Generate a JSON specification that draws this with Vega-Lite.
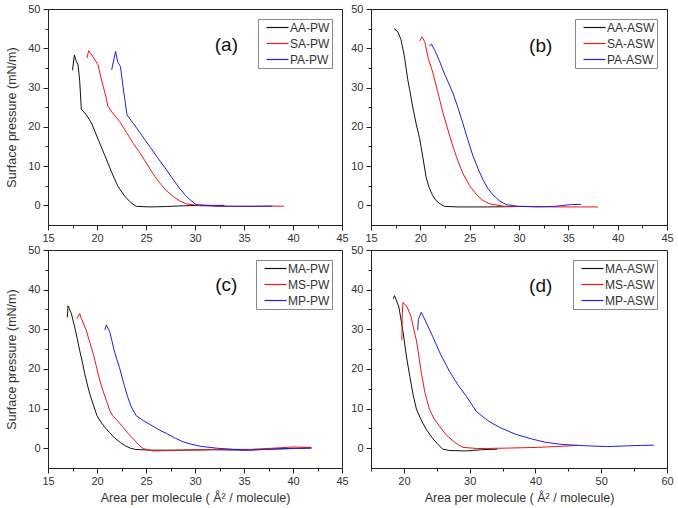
{
  "$schema": "https://vega.github.io/schema/vega-lite/v6.json",
  "padding": {"left": 5, "top": 2, "right": 5, "bottom": 5},
  "background": "white",
  "datasets": {
    "a": [
      {"series":"AA-PW","area":17.5,"pressure":34.4},{"series":"AA-PW","area":17.69,"pressure":38.3},{"series":"AA-PW","area":17.9,"pressure":36.6},{"series":"AA-PW","area":18.06,"pressure":35.8},{"series":"AA-PW","area":18.23,"pressure":31.9},{"series":"AA-PW","area":18.4,"pressure":24.5},{"series":"AA-PW","area":18.9,"pressure":23.1},{"series":"AA-PW","area":19.43,"pressure":21.0},{"series":"AA-PW","area":20.1,"pressure":16.9},{"series":"AA-PW","area":20.8,"pressure":12.7},{"series":"AA-PW","area":21.5,"pressure":8.4},{"series":"AA-PW","area":22.1,"pressure":5.0},{"series":"AA-PW","area":22.8,"pressure":2.4},{"series":"AA-PW","area":23.5,"pressure":0.6},{"series":"AA-PW","area":24.0,"pressure":-0.25},{"series":"AA-PW","area":25.4,"pressure":-0.4},{"series":"AA-PW","area":27.1,"pressure":-0.3},{"series":"AA-PW","area":28.8,"pressure":-0.1},{"series":"AA-PW","area":30.5,"pressure":0},{"series":"AA-PW","area":33,"pressure":0},
      {"series":"SA-PW","area":18.98,"pressure":37.5},{"series":"SA-PW","area":19.15,"pressure":39.4},{"series":"SA-PW","area":19.6,"pressure":37.8},{"series":"SA-PW","area":20.1,"pressure":35.8},{"series":"SA-PW","area":20.5,"pressure":31.5},{"series":"SA-PW","area":20.95,"pressure":27.3},{"series":"SA-PW","area":21.1,"pressure":25.3},{"series":"SA-PW","area":21.6,"pressure":23.5},{"series":"SA-PW","area":22.3,"pressure":21.4},{"series":"SA-PW","area":23.0,"pressure":18.6},{"series":"SA-PW","area":23.7,"pressure":15.8},{"series":"SA-PW","area":24.4,"pressure":13.3},{"series":"SA-PW","area":25.03,"pressure":10.8},{"series":"SA-PW","area":25.7,"pressure":8.1},{"series":"SA-PW","area":26.4,"pressure":5.7},{"series":"SA-PW","area":27.1,"pressure":3.7},{"series":"SA-PW","area":27.76,"pressure":2.3},{"series":"SA-PW","area":28.4,"pressure":1.2},{"series":"SA-PW","area":29.1,"pressure":0.4},{"series":"SA-PW","area":30.5,"pressure":-0.1},{"series":"SA-PW","area":33.9,"pressure":-0.25},{"series":"SA-PW","area":37.3,"pressure":-0.2},{"series":"SA-PW","area":39.1,"pressure":-0.2},
      {"series":"PA-PW","area":21.5,"pressure":34.5},{"series":"PA-PW","area":21.7,"pressure":37},{"series":"PA-PW","area":21.9,"pressure":39.2},{"series":"PA-PW","area":22.1,"pressure":36.6},{"series":"PA-PW","area":22.4,"pressure":35.3},{"series":"PA-PW","area":22.65,"pressure":30.3},{"series":"PA-PW","area":23.06,"pressure":23.05},{"series":"PA-PW","area":23.7,"pressure":20.9},{"series":"PA-PW","area":24.5,"pressure":18.1},{"series":"PA-PW","area":25.37,"pressure":15},{"series":"PA-PW","area":26.2,"pressure":12.1},{"series":"PA-PW","area":27.07,"pressure":9.1},{"series":"PA-PW","area":27.8,"pressure":6.5},{"series":"PA-PW","area":28.4,"pressure":4.4},{"series":"PA-PW","area":29.0,"pressure":2.6},{"series":"PA-PW","area":29.5,"pressure":1.4},{"series":"PA-PW","area":30.1,"pressure":0.2},{"series":"PA-PW","area":32.2,"pressure":-0.2},{"series":"PA-PW","area":35.6,"pressure":-0.25},{"series":"PA-PW","area":37.9,"pressure":-0.2}
    ],
    "b": [
      {"series":"AA-ASW","area":17.36,"pressure":44.9},{"series":"AA-ASW","area":17.7,"pressure":44.3},{"series":"AA-ASW","area":18.04,"pressure":42.2},{"series":"AA-ASW","area":18.38,"pressure":38.0},{"series":"AA-ASW","area":18.72,"pressure":32.1},{"series":"AA-ASW","area":18.95,"pressure":29},{"series":"AA-ASW","area":19.22,"pressure":25.2},{"series":"AA-ASW","area":19.6,"pressure":20.5},{"series":"AA-ASW","area":19.93,"pressure":17.0},{"series":"AA-ASW","area":20.25,"pressure":12.3},{"series":"AA-ASW","area":20.6,"pressure":7.0},{"series":"AA-ASW","area":20.9,"pressure":4.5},{"series":"AA-ASW","area":21.25,"pressure":2.5},{"series":"AA-ASW","area":21.6,"pressure":1.2},{"series":"AA-ASW","area":22.0,"pressure":0.4},{"series":"AA-ASW","area":22.43,"pressure":-0.25},{"series":"AA-ASW","area":23.8,"pressure":-0.4},{"series":"AA-ASW","area":26.8,"pressure":-0.4},{"series":"AA-ASW","area":30,"pressure":-0.3},
      {"series":"SA-ASW","area":19.9,"pressure":41.8},{"series":"SA-ASW","area":20.17,"pressure":42.9},{"series":"SA-ASW","area":20.44,"pressure":41.7},{"series":"SA-ASW","area":20.8,"pressure":37.5},{"series":"SA-ASW","area":21.28,"pressure":33.7},{"series":"SA-ASW","area":21.8,"pressure":28.5},{"series":"SA-ASW","area":22.3,"pressure":23.5},{"series":"SA-ASW","area":22.8,"pressure":19.2},{"series":"SA-ASW","area":23.3,"pressure":15},{"series":"SA-ASW","area":23.8,"pressure":11.4},{"series":"SA-ASW","area":24.3,"pressure":8.2},{"series":"SA-ASW","area":25.0,"pressure":5.0},{"series":"SA-ASW","area":25.7,"pressure":2.7},{"series":"SA-ASW","area":26.3,"pressure":1.3},{"series":"SA-ASW","area":27.0,"pressure":0.4},{"series":"SA-ASW","area":28.5,"pressure":-0.25},{"series":"SA-ASW","area":30.5,"pressure":-0.25},{"series":"SA-ASW","area":33.6,"pressure":-0.4},{"series":"SA-ASW","area":38.0,"pressure":-0.4},
      {"series":"PA-ASW","area":20.9,"pressure":40.5},{"series":"PA-ASW","area":21.12,"pressure":41.1},{"series":"PA-ASW","area":21.5,"pressure":39.3},{"series":"PA-ASW","area":21.9,"pressure":37},{"series":"PA-ASW","area":22.3,"pressure":34.4},{"series":"PA-ASW","area":22.8,"pressure":31.5},{"series":"PA-ASW","area":23.3,"pressure":28.6},{"series":"PA-ASW","area":23.8,"pressure":25},{"series":"PA-ASW","area":24.3,"pressure":21.0},{"series":"PA-ASW","area":24.8,"pressure":16.8},{"series":"PA-ASW","area":25.33,"pressure":12.6},{"series":"PA-ASW","area":25.85,"pressure":9.3},{"series":"PA-ASW","area":26.35,"pressure":6.5},{"series":"PA-ASW","area":26.85,"pressure":4.3},{"series":"PA-ASW","area":27.36,"pressure":2.7},{"series":"PA-ASW","area":28.0,"pressure":1.2},{"series":"PA-ASW","area":28.7,"pressure":0.2},{"series":"PA-ASW","area":29.9,"pressure":-0.25},{"series":"PA-ASW","area":31.9,"pressure":-0.4},{"series":"PA-ASW","area":33.6,"pressure":-0.25},{"series":"PA-ASW","area":35.3,"pressure":0.2},{"series":"PA-ASW","area":36.3,"pressure":0.25}
    ],
    "c": [
      {"series":"MA-PW","area":16.97,"pressure":33.0},{"series":"MA-PW","area":17.04,"pressure":35.9},{"series":"MA-PW","area":17.38,"pressure":34.0},{"series":"MA-PW","area":17.72,"pressure":30.6},{"series":"MA-PW","area":17.98,"pressure":27.7},{"series":"MA-PW","area":18.23,"pressure":24.7},{"series":"MA-PW","area":18.5,"pressure":21.8},{"series":"MA-PW","area":18.74,"pressure":18.9},{"series":"MA-PW","area":19.0,"pressure":16.2},{"series":"MA-PW","area":19.25,"pressure":13.8},{"series":"MA-PW","area":19.6,"pressure":11.1},{"series":"MA-PW","area":20.0,"pressure":8.2},{"series":"MA-PW","area":20.4,"pressure":6.6},{"series":"MA-PW","area":20.8,"pressure":5.3},{"series":"MA-PW","area":21.3,"pressure":3.9},{"series":"MA-PW","area":21.8,"pressure":2.6},{"series":"MA-PW","area":22.4,"pressure":1.4},{"series":"MA-PW","area":22.9,"pressure":0.6},{"series":"MA-PW","area":23.4,"pressure":0.0},{"series":"MA-PW","area":23.9,"pressure":-0.3},{"series":"MA-PW","area":25.4,"pressure":-0.5},{"series":"MA-PW","area":28,"pressure":-0.5},{"series":"MA-PW","area":32,"pressure":-0.4},{"series":"MA-PW","area":35,"pressure":-0.5},{"series":"MA-PW","area":38,"pressure":-0.2},{"series":"MA-PW","area":41.8,"pressure":0.1},
      {"series":"MS-PW","area":17.96,"pressure":32.7},{"series":"MS-PW","area":18.23,"pressure":34.0},{"series":"MS-PW","area":18.4,"pressure":32.7},{"series":"MS-PW","area":18.9,"pressure":29.8},{"series":"MS-PW","area":19.25,"pressure":26.8},{"series":"MS-PW","area":19.6,"pressure":23.9},{"series":"MS-PW","area":19.95,"pressure":20.5},{"series":"MS-PW","area":20.27,"pressure":17.2},{"series":"MS-PW","area":20.6,"pressure":14.6},{"series":"MS-PW","area":20.95,"pressure":12.1},{"series":"MS-PW","area":21.3,"pressure":9.5},{"series":"MS-PW","area":21.6,"pressure":8.2},{"series":"MS-PW","area":22.1,"pressure":6.9},{"series":"MS-PW","area":22.65,"pressure":5.3},{"series":"MS-PW","area":23.1,"pressure":3.9},{"series":"MS-PW","area":23.6,"pressure":2.6},{"series":"MS-PW","area":24.2,"pressure":1.0},{"series":"MS-PW","area":24.7,"pressure":-0.1},{"series":"MS-PW","area":25.7,"pressure":-0.7},{"series":"MS-PW","area":28.8,"pressure":-0.5},{"series":"MS-PW","area":32.2,"pressure":-0.3},{"series":"MS-PW","area":35.6,"pressure":-0.3},{"series":"MS-PW","area":38,"pressure":0},{"series":"MS-PW","area":40,"pressure":0.3},{"series":"MS-PW","area":41.9,"pressure":0.2},
      {"series":"MP-PW","area":20.8,"pressure":29.8},{"series":"MP-PW","area":20.95,"pressure":31.1},{"series":"MP-PW","area":21.3,"pressure":29.4},{"series":"MP-PW","area":21.8,"pressure":24.2},{"series":"MP-PW","area":22.3,"pressure":20.3},{"series":"MP-PW","area":22.8,"pressure":15.7},{"series":"MP-PW","area":23.15,"pressure":12.8},{"series":"MP-PW","area":23.5,"pressure":10.4},{"series":"MP-PW","area":24.0,"pressure":8.2},{"series":"MP-PW","area":24.7,"pressure":7.0},{"series":"MP-PW","area":25.4,"pressure":6.0},{"series":"MP-PW","area":26.2,"pressure":4.8},{"series":"MP-PW","area":27.1,"pressure":3.7},{"series":"MP-PW","area":28.0,"pressure":2.5},{"series":"MP-PW","area":28.8,"pressure":1.6},{"series":"MP-PW","area":29.6,"pressure":1.0},{"series":"MP-PW","area":30.5,"pressure":0.5},{"series":"MP-PW","area":32.2,"pressure":0},{"series":"MP-PW","area":33.9,"pressure":-0.3},{"series":"MP-PW","area":35.6,"pressure":-0.5},{"series":"MP-PW","area":37.3,"pressure":-0.3},{"series":"MP-PW","area":40,"pressure":-0.1},{"series":"MP-PW","area":41.9,"pressure":0}
    ],
    "d": [
      {"series":"MA-ASW","area":18.37,"pressure":37.7},{"series":"MA-ASW","area":18.58,"pressure":38.5},{"series":"MA-ASW","area":19.24,"pressure":35.6},{"series":"MA-ASW","area":19.86,"pressure":29.5},{"series":"MA-ASW","area":20.4,"pressure":23},{"series":"MA-ASW","area":20.9,"pressure":18.1},{"series":"MA-ASW","area":21.4,"pressure":13.5},{"series":"MA-ASW","area":21.9,"pressure":9.9},{"series":"MA-ASW","area":22.6,"pressure":7.2},{"series":"MA-ASW","area":23.4,"pressure":4.75},{"series":"MA-ASW","area":24.3,"pressure":2.6},{"series":"MA-ASW","area":25.1,"pressure":1.1},{"series":"MA-ASW","area":25.9,"pressure":-0.25},{"series":"MA-ASW","area":27,"pressure":-0.6},{"series":"MA-ASW","area":29.5,"pressure":-0.7},{"series":"MA-ASW","area":31.65,"pressure":-0.4},{"series":"MA-ASW","area":34.2,"pressure":-0.25},
      {"series":"MS-ASW","area":19.7,"pressure":27.25},{"series":"MS-ASW","area":19.75,"pressure":33.9},{"series":"MS-ASW","area":19.86,"pressure":36.8},{"series":"MS-ASW","area":20.5,"pressure":35.6},{"series":"MS-ASW","area":21.1,"pressure":33.1},{"series":"MS-ASW","area":21.5,"pressure":30},{"series":"MS-ASW","area":21.9,"pressure":27.25},{"series":"MS-ASW","area":22.3,"pressure":23},{"series":"MS-ASW","area":22.66,"pressure":18.9},{"series":"MS-ASW","area":23.2,"pressure":14},{"series":"MS-ASW","area":23.9,"pressure":9.75},{"series":"MS-ASW","area":24.6,"pressure":7.4},{"series":"MS-ASW","area":25.4,"pressure":5.6},{"series":"MS-ASW","area":26.4,"pressure":3.4},{"series":"MS-ASW","area":27.5,"pressure":1.8},{"series":"MS-ASW","area":28.3,"pressure":0.8},{"series":"MS-ASW","area":29.0,"pressure":0.2},{"series":"MS-ASW","area":31.2,"pressure":-0.1},{"series":"MS-ASW","area":35.2,"pressure":0},{"series":"MS-ASW","area":40.3,"pressure":0.2},{"series":"MS-ASW","area":45.4,"pressure":0.6},{"series":"MS-ASW","area":46.4,"pressure":0.75},
      {"series":"MP-ASW","area":22.1,"pressure":29.75},{"series":"MP-ASW","area":22.2,"pressure":32.5},{"series":"MP-ASW","area":22.66,"pressure":34.3},{"series":"MP-ASW","area":23.3,"pressure":32},{"series":"MP-ASW","area":24.4,"pressure":28.1},{"series":"MP-ASW","area":25.6,"pressure":23.6},{"series":"MP-ASW","area":26.96,"pressure":19.3},{"series":"MP-ASW","area":28.2,"pressure":16},{"series":"MP-ASW","area":29.5,"pressure":13.1},{"series":"MP-ASW","area":31.0,"pressure":9.3},{"series":"MP-ASW","area":32.7,"pressure":7.0},{"series":"MP-ASW","area":34.6,"pressure":5.2},{"series":"MP-ASW","area":37.0,"pressure":3.5},{"series":"MP-ASW","area":39.6,"pressure":2.25},{"series":"MP-ASW","area":41.5,"pressure":1.5},{"series":"MP-ASW","area":43.7,"pressure":1.0},{"series":"MP-ASW","area":46,"pressure":0.75},{"series":"MP-ASW","area":48.5,"pressure":0.55},{"series":"MP-ASW","area":51,"pressure":0.4},{"series":"MP-ASW","area":53.5,"pressure":0.55},{"series":"MP-ASW","area":56,"pressure":0.7},{"series":"MP-ASW","area":58.0,"pressure":0.75}
    ],
    "labels": [
      {"panel":"a","label":"(a)","area":33.2,"pressure":40.9},
      {"panel":"b","label":"(b)","area":32.2,"pressure":40.7},
      {"panel":"c","label":"(c)","area":33.2,"pressure":41.2},
      {"panel":"d","label":"(d)","area":40.8,"pressure":41.0}
    ]
  },
  "columns": 2,
  "spacing": {"row": 25, "column": 29},
  "bounds": "flush",
  "resolve": {"scale": {"color": "independent"}, "legend": {"color": "independent"}},
  "concat": [
    {
      "width": 294, "height": 216,
      "layer": [
        {
          "data": {"name": "a"},
          "mark": {"type": "line", "strokeWidth": 1, "clip": true},
          "encoding": {
            "x": {"field": "area", "type": "quantitative", "scale": {"domain": [15, 45], "nice": false, "zero": false},
                  "axis": {"title": null, "format": "d", "tickCount": 100, "values": [15,17.5,20,22.5,25,27.5,30,32.5,35,37.5,40,42.5,45], "labelExpr": "datum.value % 5 === 0 ? datum.label : ''", "tickSize": {"condition": {"test": "datum.value % 5 === 0", "value": 5}, "value": 3}}},
            "y": {"field": "pressure", "type": "quantitative", "scale": {"domain": [-5, 50], "nice": false, "zero": false},
                  "axis": {"title": "Surface pressure (mN/m)", "format": "d", "tickCount": 100, "values": [0,5,10,15,20,25,30,35,40,45,50], "labelExpr": "datum.value % 10 === 0 ? datum.label : ''", "tickSize": {"condition": {"test": "datum.value % 10 === 0", "value": 5}, "value": 3}}},
            "color": {"field": "series", "type": "nominal", "scale": {"domain": ["AA-PW","SA-PW","PA-PW"], "range": ["#111111","#f01414","#1e1ee6"]}, "legend": {"title": null, "orient": "top-right"}}
          }
        },
        {
          "data": {"name": "labels"},
          "transform": [{"filter": "datum.panel === 'a'"}],
          "mark": {"type": "text", "fontSize": 19, "font": "Liberation Sans", "color": "#111"},
          "encoding": {"x": {"field": "area", "type": "quantitative"}, "y": {"field": "pressure", "type": "quantitative"}, "text": {"field": "label"}}
        }
      ]
    },
    {
      "width": 296, "height": 216,
      "layer": [
        {
          "data": {"name": "b"},
          "mark": {"type": "line", "strokeWidth": 1, "clip": true},
          "encoding": {
            "x": {"field": "area", "type": "quantitative", "scale": {"domain": [15, 45], "nice": false, "zero": false},
                  "axis": {"title": null, "format": "d", "tickCount": 100, "values": [15,17.5,20,22.5,25,27.5,30,32.5,35,37.5,40,42.5,45], "labelExpr": "datum.value % 5 === 0 ? datum.label : ''", "tickSize": {"condition": {"test": "datum.value % 5 === 0", "value": 5}, "value": 3}}},
            "y": {"field": "pressure", "type": "quantitative", "scale": {"domain": [-5, 50], "nice": false, "zero": false},
                  "axis": {"title": null, "format": "d", "tickCount": 100, "values": [0,5,10,15,20,25,30,35,40,45,50], "labelExpr": "datum.value % 10 === 0 ? datum.label : ''", "tickSize": {"condition": {"test": "datum.value % 10 === 0", "value": 5}, "value": 3}}},
            "color": {"field": "series", "type": "nominal", "scale": {"domain": ["AA-ASW","SA-ASW","PA-ASW"], "range": ["#111111","#f01414","#1e1ee6"]}, "legend": {"title": null, "orient": "top-right"}}
          }
        },
        {
          "data": {"name": "labels"},
          "transform": [{"filter": "datum.panel === 'b'"}],
          "mark": {"type": "text", "fontSize": 19, "font": "Liberation Sans", "color": "#111"},
          "encoding": {"x": {"field": "area", "type": "quantitative"}, "y": {"field": "pressure", "type": "quantitative"}, "text": {"field": "label"}}
        }
      ]
    },
    {
      "width": 294, "height": 218,
      "layer": [
        {
          "data": {"name": "c"},
          "mark": {"type": "line", "strokeWidth": 1, "clip": true},
          "encoding": {
            "x": {"field": "area", "type": "quantitative", "scale": {"domain": [15, 45], "nice": false, "zero": false},
                  "axis": {"title": "Area per molecule ( Å² / molecule)", "format": "d", "tickCount": 100, "values": [15,17.5,20,22.5,25,27.5,30,32.5,35,37.5,40,42.5,45], "labelExpr": "datum.value % 5 === 0 ? datum.label : ''", "tickSize": {"condition": {"test": "datum.value % 5 === 0", "value": 5}, "value": 3}}},
            "y": {"field": "pressure", "type": "quantitative", "scale": {"domain": [-5, 50], "nice": false, "zero": false},
                  "axis": {"title": "Surface pressure (mN/m)", "format": "d", "tickCount": 100, "values": [0,5,10,15,20,25,30,35,40,45,50], "labelExpr": "datum.value % 10 === 0 ? datum.label : ''", "tickSize": {"condition": {"test": "datum.value % 10 === 0", "value": 5}, "value": 3}}},
            "color": {"field": "series", "type": "nominal", "scale": {"domain": ["MA-PW","MS-PW","MP-PW"], "range": ["#111111","#f01414","#1e1ee6"]}, "legend": {"title": null, "orient": "top-right"}}
          }
        },
        {
          "data": {"name": "labels"},
          "transform": [{"filter": "datum.panel === 'c'"}],
          "mark": {"type": "text", "fontSize": 19, "font": "Liberation Sans", "color": "#111"},
          "encoding": {"x": {"field": "area", "type": "quantitative"}, "y": {"field": "pressure", "type": "quantitative"}, "text": {"field": "label"}}
        }
      ]
    },
    {
      "width": 296, "height": 218,
      "layer": [
        {
          "data": {"name": "d"},
          "mark": {"type": "line", "strokeWidth": 1, "clip": true},
          "encoding": {
            "x": {"field": "area", "type": "quantitative", "scale": {"domain": [15, 60], "nice": false, "zero": false},
                  "axis": {"title": "Area per molecule ( Å² / molecule)", "format": "d", "tickCount": 100, "values": [15,20,25,30,35,40,45,50,55,60], "labelExpr": "datum.value % 10 === 0 ? datum.label : ''", "tickSize": {"condition": {"test": "datum.value % 10 === 0", "value": 5}, "value": 3}}},
            "y": {"field": "pressure", "type": "quantitative", "scale": {"domain": [-5, 50], "nice": false, "zero": false},
                  "axis": {"title": null, "format": "d", "tickCount": 100, "values": [0,5,10,15,20,25,30,35,40,45,50], "labelExpr": "datum.value % 10 === 0 ? datum.label : ''", "tickSize": {"condition": {"test": "datum.value % 10 === 0", "value": 5}, "value": 3}}},
            "color": {"field": "series", "type": "nominal", "scale": {"domain": ["MA-ASW","MS-ASW","MP-ASW"], "range": ["#111111","#f01414","#1e1ee6"]}, "legend": {"title": null, "orient": "top-right"}}
          }
        },
        {
          "data": {"name": "labels"},
          "transform": [{"filter": "datum.panel === 'd'"}],
          "mark": {"type": "text", "fontSize": 19, "font": "Liberation Sans", "color": "#111"},
          "encoding": {"x": {"field": "area", "type": "quantitative"}, "y": {"field": "pressure", "type": "quantitative"}, "text": {"field": "label"}}
        }
      ]
    }
  ],
  "config": {
    "font": "Liberation Sans",
    "view": {"stroke": "#222", "strokeWidth": 1},
    "axis": {
      "grid": false,
      "domainColor": "#222",
      "tickColor": "#222",
      "labelColor": "#333",
      "labelFont": "Liberation Sans",
      "labelFontSize": 11,
      "labelPadding": 2,
      "titleFont": "Liberation Sans",
      "titleFontSize": 12.5,
      "titleFontWeight": "normal",
      "titleColor": "#333",
      "labelFlush": false,
      "labelOverlap": false
    },
    "axisY": {"titlePadding": 9, "labelPadding": 3},
    "axisX": {"titlePadding": 5},
    "legend": {
      "offset": 10,
      "strokeColor": "#888",
      "fillColor": "white",
      "padding": 2,
      "symbolType": "M0,0L4,0",
      "symbolSize": 121,
      "symbolStrokeWidth": 1.2,
      "labelFont": "Liberation Sans",
      "labelFontSize": 12,
      "labelColor": "#333",
      "rowPadding": 3,
      "labelOffset": 17
    }
  }
}
